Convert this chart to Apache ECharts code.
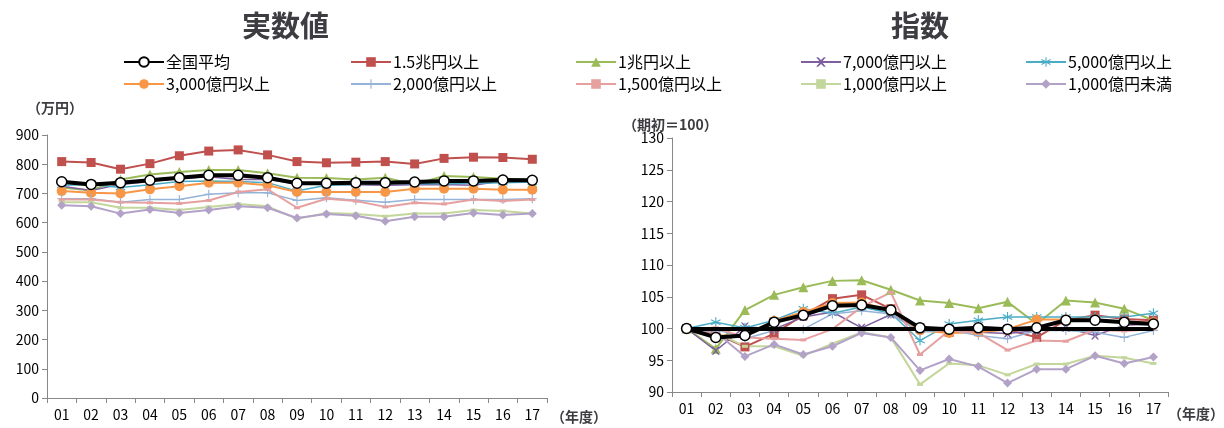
<!DOCTYPE html>
<html lang="ja">
<head>
<meta charset="UTF-8">
<title>実数値・指数</title>
<script src="https://cdn.jsdelivr.net/npm/echarts@6/dist/echarts.min.js"></script>
</head>
<body style="margin:0">
<div id="main" style="width:1224px;height:428px;"></div>
<script type="text/javascript">
// categories (fiscal years)
const years = ['01','02','03','04','05','06','07','08','09','10','11','12','13','14','15','16','17'];
const names = ['全国平均','1.5兆円以上','1兆円以上','7,000億円以上','5,000億円以上','3,000億円以上','2,000億円以上','1,500億円以上','1,000億円以上','1,000億円未満'];

// actual values (万円)
const realAvg   = [740,731,737,745,754,762,762,754,735,735,737,737,739,743,743,746,745];
const real15    = [809,806,783,802,829,845,849,832,809,805,807,809,801,820,824,823,817];
const real10    = [720,710,748,765,773,780,780,769,754,753,748,754,731,760,756,750,737];
const real7000  = [725,710,731,741,751,757,748,748,733,731,730,728,730,731,728,743,743];
const real5000  = [728,731,720,730,741,743,741,737,708,728,731,735,733,733,735,737,739];
const real3000  = [708,702,700,714,725,737,737,728,705,705,705,705,716,716,716,713,713];
const real2000  = [682,682,670,679,679,697,702,702,676,685,677,670,679,679,679,679,682];
const real1500  = [679,679,670,668,666,676,705,714,651,682,674,654,668,664,679,674,679];
const real1000  = [670,670,651,651,643,654,664,656,613,633,630,622,631,631,643,640,631];
const realUnder = [660,656,631,645,633,643,656,651,616,630,624,605,620,620,633,626,631];

// index values (期初=100)
const idxAvg   = [100,98.6,98.9,101,102.1,103.6,103.7,102.9,100.1,99.9,100.1,99.9,100.1,101.3,101.3,101,100.7];
const idx15    = [100,99.2,97.1,99.2,102.1,104.7,105.3,103.1,100.1,99.4,99.6,99.8,98.6,101.3,102.1,101.5,101.3];
const idx10    = [100,96.8,102.9,105.3,106.5,107.5,107.6,106.1,104.4,104.0,103.2,104.2,100.7,104.4,104.1,103.1,101.3];
const idx7000  = [100,96.5,100.3,99.9,101.8,102.6,100.1,102.2,99.9,99.6,99.4,99.2,99.7,100.1,98.9,100.5,100.7];
const idx5000  = [100,101,100.1,101.3,103.1,102.4,103.4,102.4,98.1,100.7,101.3,101.8,101.8,101.8,101.8,101.8,102.4];
const idx3000  = [100,98.9,98.9,101.2,102.6,104.0,104.1,102.8,99.7,99.3,99.4,99.9,101.4,101.4,101.4,101,101];
const idx2000  = [100,99.9,98.4,99.7,99.9,102.3,102.8,102.3,99.4,99.8,98.9,98.4,99.7,99.7,99.4,98.6,99.7];
const idx1500  = [100,100.1,98.6,98.4,98.2,99.9,103.4,105.7,95.9,99.7,99.3,96.6,98.1,98,99.8,99.6,99.9];
const idx1000  = [100,99.4,97.2,97.2,95.7,97.6,99.4,98.6,91.2,94.5,94.2,92.7,94.4,94.4,95.7,95.4,94.5];
const idxUnder = [100,99.4,95.6,97.5,95.9,97.2,99.3,98.6,93.4,95.2,94,91.4,93.6,93.6,95.7,94.5,95.5];

const realData = [realAvg,real15,real10,real7000,real5000,real3000,real2000,real1500,real1000,realUnder];
const idxData  = [idxAvg,idx15,idx10,idx7000,idx5000,idx3000,idx2000,idx1500,idx1000,idxUnder];

const crossPath = 'path://M0,0L2,0L5,3L8,0L10,0L6,5L10,10L8,10L5,7L2,10L0,10L4,5Z';
const plusPath = 'path://M4.4,0L5.6,0L5.6,4.4L10,4.4L10,5.6L5.6,5.6L5.6,10L4.4,10L4.4,5.6L0,5.6L0,4.4L4.4,4.4Z';
const starPath = 'path://M4.5,0L5.5,0L5.5,4L9,2L9.5,3L6,5L9.5,7L9,8L5.5,6L5.5,10L4.5,10L4.5,6L1,8L0.5,7L4,5L0.5,3L1,2L4.5,4Z';
const styles = [
  {color:'#000000', symbol:'circle', size:10, width:4},
  {color:'#C0504D', symbol:'rect', size:9, width:2},
  {color:'#9BBB59', symbol:'triangle', size:10, width:2},
  {color:'#7F5FA0', symbol:crossPath, size:8, width:1.5},
  {color:'#4BACC6', symbol:starPath, size:10, width:1.5},
  {color:'#F79646', symbol:'circle', size:10, width:2},
  {color:'#95B3D7', symbol:plusPath, size:9, width:1.5},
  {color:'#E6A0A0', symbol:'rect', size:[6,3], width:2},
  {color:'#C3D69B', symbol:'rect', size:[6,3], width:2},
  {color:'#B3A2C7', symbol:'diamond', size:9, width:2}
];

function makeSeries(data, gi) {
  return data.map((d, i) => ({
    name: names[i], type: 'line', data: d,
    xAxisIndex: gi, yAxisIndex: gi,
    symbol: styles[i].symbol, symbolSize: styles[i].size,
    lineStyle: {color: styles[i].color, width: styles[i].width},
    itemStyle: i === 0 ? {color: '#fff', borderColor: '#000', borderWidth: 1.5} : {color: styles[i].color},
    z: i === 0 ? 5 : 3,
    animation: false
  }));
}

const series = makeSeries(realData, 0).concat(makeSeries(idxData, 1));
// baseline 100 on the index chart
series[10].markLine = {symbol: 'none', silent: true, label: {show: false},
  lineStyle: {color: '#000', width: 4, type: 'solid'},
  data: [[{coord: ['01', 100]}, {coord: ['17', 100]}]]};

const legendX = [118, 345, 570, 795, 1020];
const legends = names.map((n, i) => ({
  data: [n], left: legendX[i % 5], top: i < 5 ? 49 : 71, itemWidth: 40, itemHeight: 12,
  textStyle: {fontSize: 16, color: '#000', padding: [0, 0, 0, -3]}
}));

const axisLine = {show: true, lineStyle: {color: '#888'}};
const labelStyle = {fontSize: 14, color: '#000'};

const option = {
  textStyle: {fontFamily: 'Noto Sans CJK JP'},
  title: [
    {text: '実数値', left: 237, top: 6, textStyle: {fontSize: 29, fontWeight: 'bold'}},
    {text: '指数', left: 886, top: 6, textStyle: {fontSize: 29, fontWeight: 'bold'}},
    {text: '（万円）', left: 22, top: 96, textStyle: {fontSize: 14, fontWeight: 'bold'}},
    {text: '（期初＝100）', left: 618, top: 113, textStyle: {fontSize: 14, fontWeight: 'bold'}},
    {text: '（年度）', left: 546, top: 405, textStyle: {fontSize: 14, fontWeight: 'bold'}},
    {text: '（年度）', left: 1163, top: 402, textStyle: {fontSize: 14, fontWeight: 'bold'}}
  ],
  legend: legends,
  grid: [
    {left: 47, top: 135, width: 500, height: 263},
    {left: 672, top: 138, width: 496, height: 254}
  ],
  xAxis: [0, 1].map(g => ({
    type: 'category', data: years, gridIndex: g, boundaryGap: true,
    axisLine: axisLine, axisTick: {show: true, lineStyle: {color: '#888'}},
    axisLabel: Object.assign({margin: 10}, labelStyle)
  })),
  yAxis: [
    {type: 'value', gridIndex: 0, min: 0, max: 900, interval: 100,
     axisLine: axisLine, axisTick: {show: true, lineStyle: {color: '#888'}}, splitLine: {show: false}, axisLabel: labelStyle},
    {type: 'value', gridIndex: 1, min: 90, max: 130, interval: 5,
     axisLine: axisLine, axisTick: {show: true, lineStyle: {color: '#888'}}, splitLine: {show: false}, axisLabel: labelStyle}
  ],
  series: series
};

let myChart = echarts.init(document.getElementById('main'));
myChart.setOption(option);
</script>
</body>
</html>
